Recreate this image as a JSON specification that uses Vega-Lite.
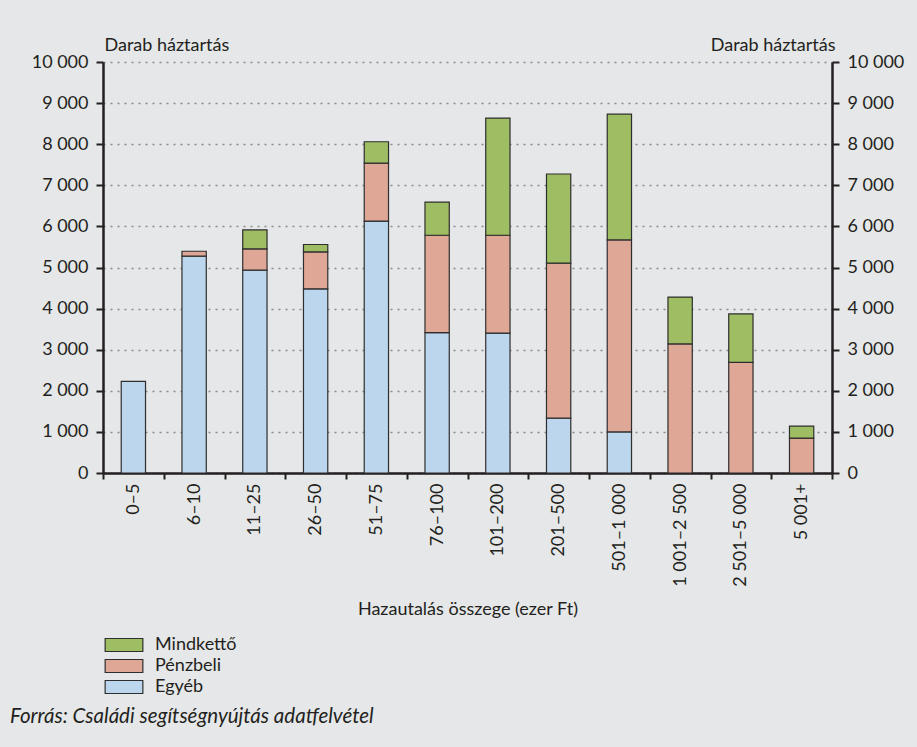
{
  "$schema": "https://vega.github.io/schema/vega-lite/v6.json",
  "autosize": {"type": "none"},
  "width": 729,
  "height": 411,
  "padding": {"left": 103, "top": 62, "right": 85, "bottom": 274},
  "background": "#e6e7e8",
  "config": {
    "font": "Lato",
    "view": {"stroke": null},
    "axis": {"labelFont": "Lato", "titleFont": "Lato", "labelColor": "#231f20", "titleColor": "#231f20"},
    "legend": {"labelFont": "Lato"}
  },
  "title": {
    "text": "Forrás: Családi segítségnyújtás adatfelvétel",
    "orient": "bottom",
    "anchor": "start",
    "frame": "group",
    "dx": -93,
    "offset": 11,
    "font": "Lato",
    "fontSize": 20.5,
    "fontStyle": "italic",
    "fontWeight": "normal",
    "color": "#231f20"
  },
  "data": {
    "values": [
      {"cat": "0–5", "type": "Egyéb", "ord": 1, "value": 2230},
      {"cat": "6–10", "type": "Egyéb", "ord": 1, "value": 5275},
      {"cat": "6–10", "type": "Pénzbeli", "ord": 2, "value": 120},
      {"cat": "11–25", "type": "Egyéb", "ord": 1, "value": 4935},
      {"cat": "11–25", "type": "Pénzbeli", "ord": 2, "value": 520},
      {"cat": "11–25", "type": "Mindkettő", "ord": 3, "value": 460},
      {"cat": "26–50", "type": "Egyéb", "ord": 1, "value": 4480},
      {"cat": "26–50", "type": "Pénzbeli", "ord": 2, "value": 900},
      {"cat": "26–50", "type": "Mindkettő", "ord": 3, "value": 180},
      {"cat": "51–75", "type": "Egyéb", "ord": 1, "value": 6130},
      {"cat": "51–75", "type": "Pénzbeli", "ord": 2, "value": 1410},
      {"cat": "51–75", "type": "Mindkettő", "ord": 3, "value": 520},
      {"cat": "76–100", "type": "Egyéb", "ord": 1, "value": 3415},
      {"cat": "76–100", "type": "Pénzbeli", "ord": 2, "value": 2370},
      {"cat": "76–100", "type": "Mindkettő", "ord": 3, "value": 805},
      {"cat": "101–200", "type": "Egyéb", "ord": 1, "value": 3405},
      {"cat": "101–200", "type": "Pénzbeli", "ord": 2, "value": 2380},
      {"cat": "101–200", "type": "Mindkettő", "ord": 3, "value": 2850},
      {"cat": "201–500", "type": "Egyéb", "ord": 1, "value": 1335},
      {"cat": "201–500", "type": "Pénzbeli", "ord": 2, "value": 3770},
      {"cat": "201–500", "type": "Mindkettő", "ord": 3, "value": 2170},
      {"cat": "501–1 000", "type": "Egyéb", "ord": 1, "value": 1000},
      {"cat": "501–1 000", "type": "Pénzbeli", "ord": 2, "value": 4670},
      {"cat": "501–1 000", "type": "Mindkettő", "ord": 3, "value": 3060},
      {"cat": "1 001–2 500", "type": "Pénzbeli", "ord": 2, "value": 3140},
      {"cat": "1 001–2 500", "type": "Mindkettő", "ord": 3, "value": 1140},
      {"cat": "2 501–5 000", "type": "Pénzbeli", "ord": 2, "value": 2690},
      {"cat": "2 501–5 000", "type": "Mindkettő", "ord": 3, "value": 1180},
      {"cat": "5 001+", "type": "Pénzbeli", "ord": 2, "value": 850},
      {"cat": "5 001+", "type": "Mindkettő", "ord": 3, "value": 290}
    ]
  },
  "encoding": {
    "x": {
      "field": "cat",
      "type": "nominal",
      "sort": ["0–5", "6–10", "11–25", "26–50", "51–75", "76–100", "101–200", "201–500", "501–1 000", "1 001–2 500", "2 501–5 000", "5 001+"],
      "scale": {"paddingInner": 0, "paddingOuter": 0},
      "axis": {
        "title": "Hazautalás összege (ezer Ft)",
        "titleFontSize": 18,
        "titleFontWeight": "normal",
        "titlePadding": 14,
        "labelAngle": -90,
        "labelAlign": "right",
        "labelBaseline": "middle",
        "labelFontSize": 18,
        "labelPadding": 4,
        "tickBand": "extent",
        "tickSize": 6,
        "tickWidth": 2,
        "tickColor": "#231f20",
        "domainColor": "#231f20",
        "domainWidth": 2.5,
        "grid": false
      }
    }
  },
  "layer": [
    {
      "mark": {"type": "bar", "width": {"band": 0.4}, "stroke": "#2e2e2e", "strokeWidth": 1.2},
      "encoding": {
        "y": {
          "field": "value",
          "type": "quantitative",
          "aggregate": "sum",
          "stack": "zero",
          "scale": {"domain": [0, 10000], "nice": false},
          "axis": {
            "title": "Darab háztartás",
            "titleAngle": 0,
            "titleAlign": "left",
            "titleBaseline": "alphabetic",
            "titleX": 1,
            "titleY": -12,
            "titleFontSize": 18,
            "titleFontWeight": "normal",
            "values": [0, 1000, 2000, 3000, 4000, 5000, 6000, 7000, 8000, 9000, 10000],
            "labelExpr": "replace(format(datum.value, ',d'), ',', ' ')",
            "labelFontSize": 18,
            "labelPadding": 8,
            "tickSize": 7,
            "tickWidth": 2,
            "tickColor": "#231f20",
            "domainColor": "#231f20",
            "domainWidth": 2.5,
            "grid": true,
            "gridColor": "#8a8a8a",
            "gridDash": [2, 5],
            "gridWidth": 1.5
          }
        },
        "color": {
          "field": "type",
          "type": "nominal",
          "scale": {"domain": ["Mindkettő", "Pénzbeli", "Egyéb"], "range": ["#9fbd62", "#dfa796", "#bcd6ee"]},
          "legend": {
            "title": null,
            "orient": "none",
            "legendX": 12,
            "legendY": 574,
            "symbolType": "M-2.9,-1H2.9V1H-2.9Z",
            "symbolSize": 169,
            "symbolStrokeColor": "#2e2e2e",
            "symbolStrokeWidth": 1.2,
            "symbolOpacity": 1,
            "labelFontSize": 18,
            "labelColor": "#231f20",
            "labelOffset": 22,
            "rowPadding": 3
          }
        },
        "order": {"field": "ord", "type": "quantitative", "sort": "ascending"}
      }
    },
    {
      "mark": {"type": "bar", "width": {"band": 0.4}, "opacity": 0},
      "encoding": {
        "y": {
          "field": "value",
          "type": "quantitative",
          "aggregate": "sum",
          "stack": "zero",
          "axis": {
            "orient": "right",
            "title": "Darab háztartás",
            "titleAngle": 0,
            "titleAlign": "right",
            "titleBaseline": "alphabetic",
            "titleX": 3,
            "titleY": -12,
            "titleFontSize": 18,
            "titleFontWeight": "normal",
            "values": [0, 1000, 2000, 3000, 4000, 5000, 6000, 7000, 8000, 9000, 10000],
            "labelExpr": "replace(format(datum.value, ',d'), ',', ' ')",
            "labelFontSize": 18,
            "labelPadding": 8,
            "tickSize": 7,
            "tickWidth": 2,
            "tickColor": "#231f20",
            "domainColor": "#231f20",
            "domainWidth": 2.5,
            "grid": false
          }
        }
      }
    }
  ],
  "resolve": {"scale": {"y": "shared"}, "axis": {"y": "independent"}}
}
